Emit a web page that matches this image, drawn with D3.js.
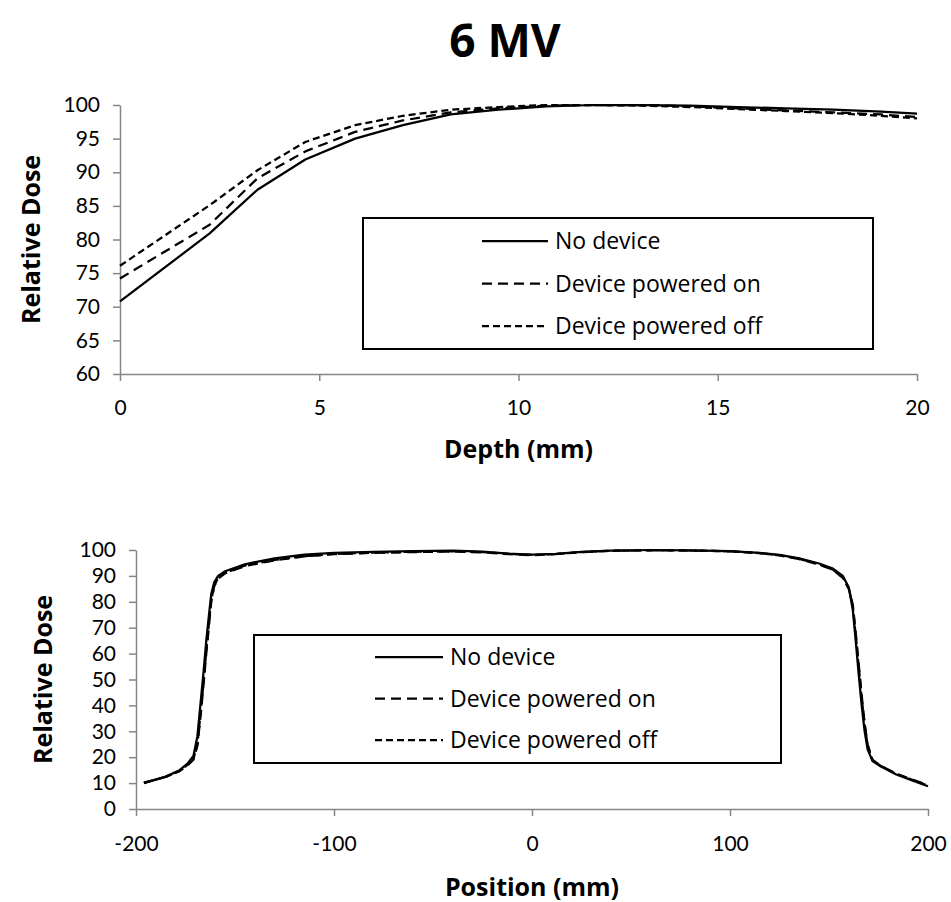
<!DOCTYPE html>
<html>
<head>
<meta charset="utf-8">
<script src="https://cdn.jsdelivr.net/npm/d3@7"></script>
<style>
  body { margin: 0; background: #fff; }
  text { font-family: "Open Sans", sans-serif; fill: #000; }
</style>
</head>
<body>
<div id="chart"></div>
<script>
// Depth dose curves (top panel)
var depths = [0, 2.25, 3.45, 4.65, 5.9, 7.1, 8.3, 9.5, 10.7, 11.9, 13.1, 14.3, 15.5, 16.7, 17.9, 19.1, 20];
var depthNoDevice = [70.8, 80.9, 87.4, 91.9, 95.0, 97.0, 98.6, 99.3, 99.8, 100, 100, 99.9, 99.7, 99.5, 99.3, 99.0, 98.7];
var depthPoweredOn = [74.2, 82.2, 89.1, 93.1, 96.0, 97.7, 98.9, 99.5, 99.9, 100, 100, 99.8, 99.5, 99.2, 98.9, 98.6, 98.2];
var depthPoweredOff = [76.1, 85.1, 90.3, 94.5, 97.0, 98.4, 99.3, 99.7, 100, 100, 99.9, 99.7, 99.4, 99.1, 98.8, 98.4, 98.0];

// Beam profiles (bottom panel)
var positions = [-196, -185, -178, -174, -171, -169, -167.5, -166, -164.5, -163, -162, -160.5, -158.5, -155, -145, -130, -115, -100, -80, -60, -40, -25, -12, 0, 12, 25, 40, 60, 80, 100, 115, 125, 135, 145, 152, 157, 160, 162, 163.5, 165, 166.5, 168, 169.5, 172, 176, 184, 192, 200];
var profileNoDevice = [10.0, 12.5, 15.0, 17.5, 20.5, 28, 40, 52, 65, 76, 83, 87.5, 90, 91.8, 94.5, 96.8, 98.2, 98.9, 99.3, 99.6, 99.8, 99.4, 98.6, 98.2, 98.5, 99.3, 99.8, 100, 99.9, 99.6, 98.9, 98.1, 96.8, 94.8, 92.8, 90, 85.5, 77, 65, 52, 40, 30, 23, 18.5, 16.5, 13.3, 11, 8.8];
var profilePoweredOn = [10.2, 12.4, 14.6, 16.8, 19, 24.5, 35, 47, 60, 72, 80, 86, 89, 91, 93.8, 96, 97.5, 98.4, 98.9, 99.2, 99.4, 99.1, 98.4, 98.0, 98.4, 99.2, 99.7, 99.9, 99.8, 99.5, 98.8, 97.9, 96.5, 94.4, 92.3, 89.2, 85, 79, 68, 56, 44, 33, 25, 19, 16.8, 13.6, 11.4, 9.2];
var profilePoweredOff = [10.1, 12.4, 14.7, 17, 19.3, 25, 36, 48, 61, 73, 80.5, 86.2, 89.2, 91.2, 94, 96.2, 97.6, 98.5, 99, 99.3, 99.5, 99.2, 98.5, 98.1, 98.4, 99.2, 99.7, 99.9, 99.8, 99.5, 98.8, 98.0, 96.6, 94.5, 92.4, 89.4, 85.2, 78.5, 67, 55, 43, 32.5, 24.5, 18.8, 16.7, 13.5, 11.3, 9.0];

var seriesNames = ["No device", "Device powered on", "Device powered off"];
var dashes = [null, "10,6", "7,4"];

var yTicksTop = [60, 65, 70, 75, 80, 85, 90, 95, 100];
var xTicksTop = [0, 5, 10, 15, 20];
var yTicksBottom = [0, 10, 20, 30, 40, 50, 60, 70, 80, 90, 100];
var xTicksBottom = [-200, -100, 0, 100, 200];

var svg = d3.select("#chart").append("svg")
  .attr("width", 951)
  .attr("height", 902);

// title
svg.append("text")
  .attr("x", 505).attr("y", 57)
  .attr("text-anchor", "middle")
  .style("font-size", "46px").style("font-weight", "bold")
  .text("6 MV");

function drawPanel(opt) {
  var x = d3.scaleLinear().domain(opt.xDomain).range([opt.left, opt.right]);
  var y = d3.scaleLinear().domain(opt.yDomain).range([opt.bottom, opt.top]);

  // plain hyphen for negatives, like the original
  var fmt = function (d) { return String(d); };

  var gx = svg.append("g")
    .attr("transform", "translate(0," + opt.bottom + ")")
    .call(d3.axisBottom(x).tickValues(opt.xTicks).tickFormat(fmt).tickSize(7).tickSizeOuter(0));
  var gy = svg.append("g")
    .attr("transform", "translate(" + opt.left + ",0)")
    .call(d3.axisLeft(y).tickValues(opt.yTicks).tickFormat(fmt).tickSize(7).tickPadding(13).tickSizeOuter(0));

  // tick labels in Lato: its tight line box keeps the 10-step labels from touching
  [gx, gy].forEach(function (g) {
    g.select(".domain").attr("stroke", "#868686").attr("stroke-width", 1.5);
    g.selectAll(".tick line").attr("stroke", "#868686").attr("stroke-width", 1.5);
    g.selectAll(".tick text").style("font-size", "21px")
      .style("font-family", "Lato, sans-serif").attr("fill", "#000");
  });
  gx.selectAll(".tick text").attr("dy", "0.35em").attr("y", opt.xLabelY - opt.bottom);

  // lines
  var line = d3.line()
    .x(function (d) { return x(d[0]); })
    .y(function (d) { return y(d[1]); });
  opt.series.forEach(function (vals, i) {
    var pts = opt.xs.map(function (v, j) { return [v, vals[j]]; });
    svg.append("path")
      .datum(pts)
      .attr("fill", "none")
      .attr("stroke", "#000")
      .attr("stroke-width", 2.25)
      .attr("stroke-linejoin", "round")
      .attr("stroke-dasharray", dashes[i])
      .attr("d", line);
  });

  // axis titles
  svg.append("text")
    .attr("x", (opt.left + opt.right) / 2).attr("y", opt.xTitleY)
    .attr("text-anchor", "middle")
    .attr("dy", "0.35em")
    .style("font-size", "25px").style("font-weight", "bold")
    .text(opt.xTitle);
  svg.append("text")
    .attr("transform", "translate(" + opt.yTitleX + "," + ((opt.top + opt.bottom) / 2) + ") rotate(-90)")
    .attr("text-anchor", "middle")
    .attr("dy", "0.35em")
    .style("font-size", "25px").style("font-weight", "bold")
    .text("Relative Dose");

  // legend
  var lg = opt.legend;
  svg.append("rect")
    .attr("x", lg.x0).attr("y", lg.y0)
    .attr("width", lg.x1 - lg.x0).attr("height", lg.y1 - lg.y0)
    .attr("fill", "#fff").attr("stroke", "#000").attr("stroke-width", 2);
  seriesNames.forEach(function (name, i) {
    var ry = lg.rowY + i * lg.rowStep;
    svg.append("line")
      .attr("x1", lg.lineX0).attr("x2", lg.lineX1)
      .attr("y1", ry).attr("y2", ry)
      .attr("stroke", "#000").attr("stroke-width", 2.25)
      .attr("stroke-dasharray", dashes[i]);
    svg.append("text")
      .attr("x", lg.lineX1 + 7).attr("y", ry)
      .attr("dy", "0.35em")
      .style("font-size", "23px")
      .text(name);
  });
}

drawPanel({
  xDomain: [0, 20], yDomain: [60, 100],
  left: 120, right: 917, top: 105, bottom: 374,
  xTicks: xTicksTop, yTicks: yTicksTop,
  xs: depths, series: [depthNoDevice, depthPoweredOn, depthPoweredOff],
  xLabelY: 408, xTitleY: 449, xTitle: "Depth (mm)", yTitleX: 31,
  legend: { x0: 363, x1: 873, y0: 218, y1: 349, lineX0: 482, lineX1: 548, rowY: 241, rowStep: 42.5 }
});

drawPanel({
  xDomain: [-200, 200], yDomain: [0, 100],
  left: 136, right: 928, top: 550, bottom: 809,
  xTicks: xTicksBottom, yTicks: yTicksBottom,
  xs: positions, series: [profileNoDevice, profilePoweredOn, profilePoweredOff],
  xLabelY: 844, xTitleY: 887, xTitle: "Position (mm)", yTitleX: 43,
  legend: { x0: 254, x1: 781, y0: 635, y1: 763, lineX0: 375, lineX1: 443, rowY: 657, rowStep: 41.6 }
});
</script>
</body>
</html>
